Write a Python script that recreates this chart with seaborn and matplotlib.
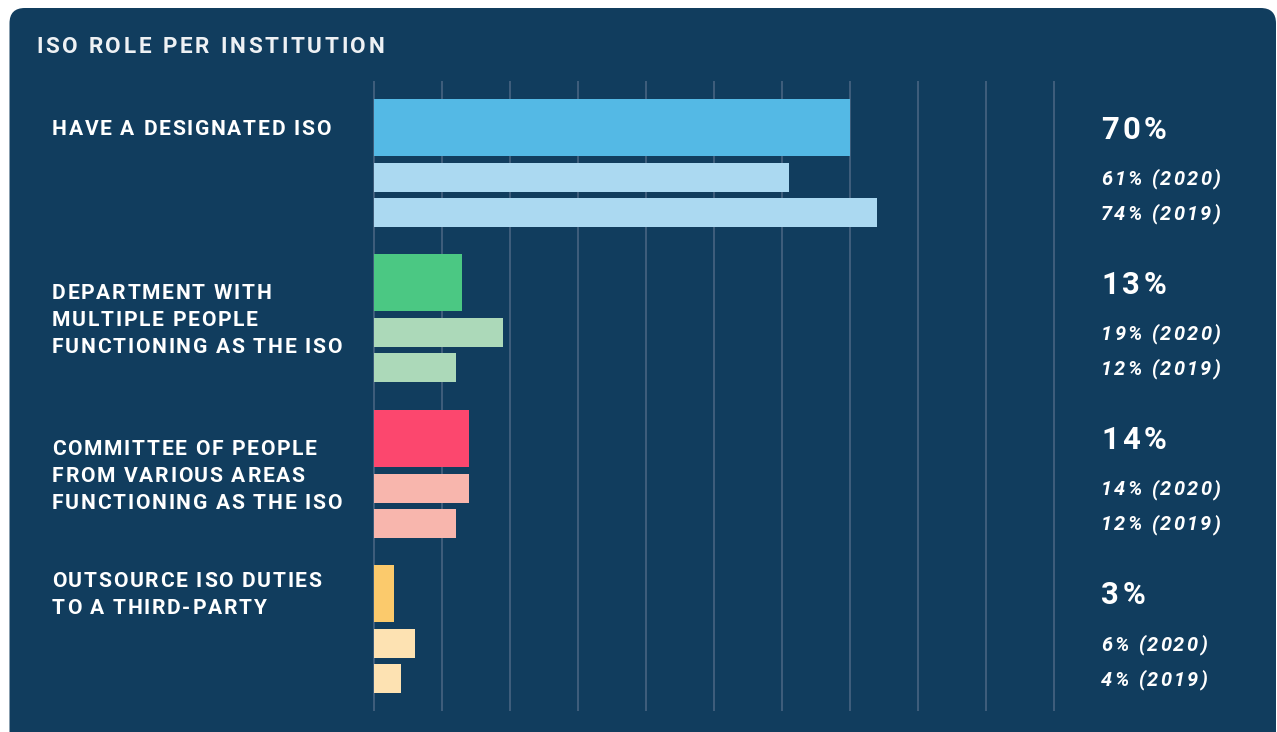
import matplotlib
matplotlib.use("Agg")
import matplotlib.pyplot as plt
import seaborn as sns
import pandas as pd
from matplotlib import font_manager
from matplotlib.font_manager import FontProperties
from matplotlib.ft2font import FT2Font
from matplotlib.patches import FancyBboxPatch
from matplotlib.transforms import Affine2D

# ---------------- data ----------------
title = "ISO ROLE PER INSTITUTION"
categories = [
    "HAVE A DESIGNATED ISO",
    "DEPARTMENT WITH\nMULTIPLE PEOPLE\nFUNCTIONING AS THE ISO",
    "COMMITTEE OF PEOPLE\nFROM VARIOUS AREAS\nFUNCTIONING AS THE ISO",
    "OUTSOURCE ISO DUTIES\nTO A THIRD-PARTY",
]
values_2021 = [70, 13, 14, 3]
values_2020 = [61, 19, 14, 6]
values_2019 = [74, 12, 12, 4]
prior_years = ["2020", "2019"]
colors_main = ["#54b9e5", "#4bc883", "#fc476e", "#fbca6c"]
colors_prior = ["#abd9f1", "#acd9b9", "#f8b6ad", "#fde2b2"]

# ---------------- layout (pixels) ----------------
W, H, DPI = 1277, 732, 100
BG = "#113d5e"
GRID = "#4d6884"
X0_PX, PX_PER_UNIT = 374, 6.8          # 0 % at x=374, 10 % per 68 px
GRID_TOP, GRID_BOT = 81, 711
GROUP_STEP = 155.3
MAIN_C, P2020_C, P2019_C = 127.5, 177.5, 212.5
MAIN_H, PRIOR_H = 57, 29
LABEL_X, VALUE_X = 52, 1101
LABEL_FIRST_LINE = [128, 292, 448, 580]  # centre of first label line per group
LABEL_LINE_STEP = 26.6

n = len(categories)
main_y = [MAIN_C + i * GROUP_STEP for i in range(n)]
y2020 = [P2020_C + i * GROUP_STEP for i in range(n)]
y2019 = [P2019_C + i * GROUP_STEP for i in range(n)]

fig = plt.figure(figsize=(W / DPI, H / DPI), dpi=DPI)
fig.patch.set_facecolor("white")

# rounded navy panel behind everything
panel = FancyBboxPatch((9.5 / W, -0.05), (1276 - 9.5) / W, (H - 8) / H + 0.05,
                       boxstyle="round,pad=0,rounding_size=0.012",
                       transform=fig.transFigure, facecolor=BG, edgecolor="none",
                       mutation_aspect=W / H, zorder=-5)
fig.patches.append(panel)

# axes: x in percent, y in pixel rows (top = 81)
xmin, xmax = -1.0, 101.0
ax_left = X0_PX + xmin * PX_PER_UNIT
ax_right = X0_PX + xmax * PX_PER_UNIT
ax = fig.add_axes([ax_left / W, 1 - GRID_BOT / H, (ax_right - ax_left) / W, (GRID_BOT - GRID_TOP) / H])
ax.set_facecolor("none")
ax.set_zorder(1)

df_main = pd.DataFrame({"cat": categories, "v": values_2021, "y": main_y})
df_2020 = pd.DataFrame({"cat": categories, "v": values_2020, "y": y2020})
df_2019 = pd.DataFrame({"cat": categories, "v": values_2019, "y": y2019})

for df, pal, h in [(df_main, colors_main, MAIN_H),
                   (df_2020, colors_prior, PRIOR_H),
                   (df_2019, colors_prior, PRIOR_H)]:
    sns.barplot(data=df, x="v", y="y", hue="cat", palette=pal, orient="h",
                native_scale=True, width=h / GROUP_STEP, dodge=False,
                saturation=1, errorbar=None, legend=False, linewidth=0,
                ax=ax, zorder=3)

ax.set_xlim(xmin, xmax)
ax.set_ylim(GRID_BOT, GRID_TOP)
ax.set_xticks(range(0, 101, 10))
ax.set_yticks([])
ax.grid(axis="x", color=GRID, linewidth=1.1)
ax.grid(axis="y", visible=False)
ax.set_axisbelow(True)
ax.tick_params(length=0, labelbottom=False, labelleft=False)
ax.set_xlabel("")
ax.set_ylabel("")
for s in ax.spines.values():
    s.set_visible(False)

# ---------------- letter-spaced text ----------------
PIX = Affine2D().scale(1, -1).translate(0, H)   # image pixels (y down) -> display


def tracked(x, y_base, s, size_px, tracking, style="normal", color="white"):
    size_pt = size_px * 72 / DPI
    fp = FontProperties(family="Roboto", weight="bold", style=style, size=size_pt)
    ft = FT2Font(font_manager.findfont(fp), hinting_factor=1)
    ft.set_size(size_pt, DPI)
    pen = x
    for ch in s:
        g = ft.load_char(ord(ch))
        if ch != " ":
            fig.text(pen, y_base, ch, transform=PIX, fontproperties=fp,
                     color=color, ha="left", va="baseline", zorder=5)
        pen += g.linearHoriAdvance / 65536 + tracking


CAP = 0.711
TITLE_PX, LABEL_PX, BIG_PX, SMALL_PX = 22.5, 21, 31, 20
tracked(36, 45 + CAP * TITLE_PX / 2, title, TITLE_PX, 2.95, color="#eef1f4")

for i, cat in enumerate(categories):
    for j, line in enumerate(cat.split("\n")):
        yc = LABEL_FIRST_LINE[i] + j * LABEL_LINE_STEP
        tracked(LABEL_X, yc + CAP * LABEL_PX / 2, line, LABEL_PX, 1.72)
    tracked(VALUE_X, main_y[i] + CAP * BIG_PX / 2, f"{values_2021[i]}%", BIG_PX, 3.5)
    tracked(VALUE_X, y2020[i] + CAP * SMALL_PX / 2,
            f"{values_2020[i]}% ({prior_years[0]})", SMALL_PX, 2.15, style="italic")
    tracked(VALUE_X, y2019[i] + CAP * SMALL_PX / 2,
            f"{values_2019[i]}% ({prior_years[1]})", SMALL_PX, 2.15, style="italic")

fig.savefig("out.png", dpi=DPI, facecolor=fig.get_facecolor())
